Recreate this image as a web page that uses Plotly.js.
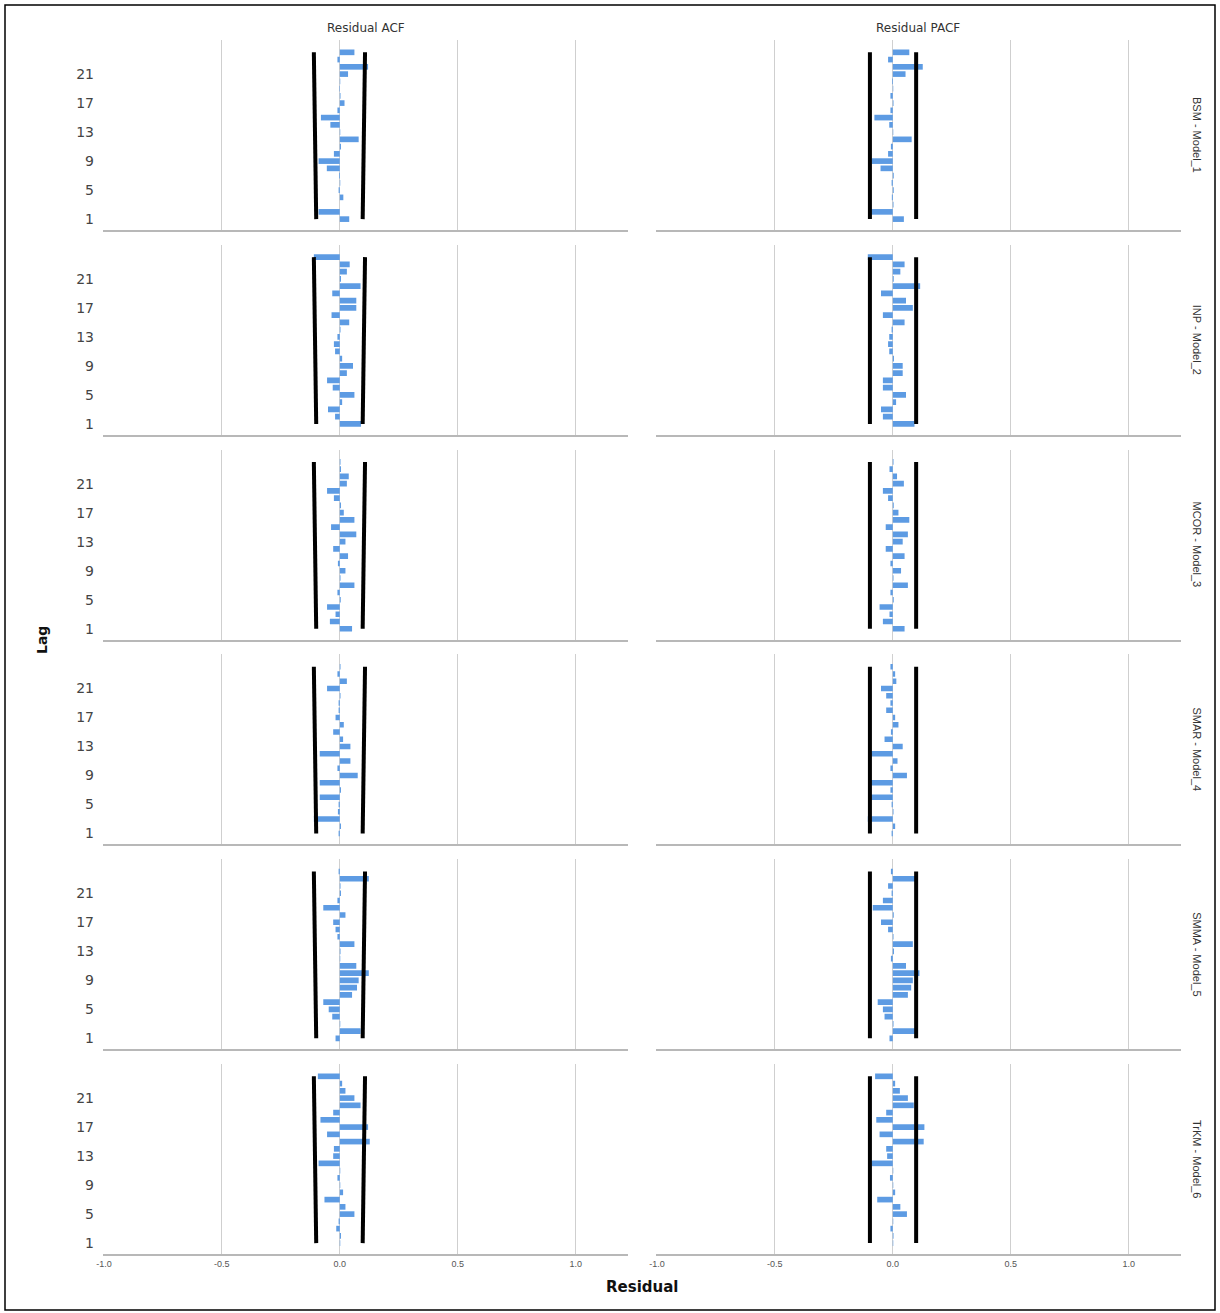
<!DOCTYPE html>
<html>
<head>
<meta charset="utf-8">
<script src="https://cdn.plot.ly/plotly-3.0.1.min.js"></script>
<style>
html,body{margin:0;padding:0;background:#fff;}
#chart{width:1220px;height:1313px;}
</style>
</head>
<body>
<div id="chart"></div>
<script>
// ---- data ----
const lags = [1,2,3,4,5,6,7,8,9,10,11,12,13,14,15,16,17,18,19,20,21,22,23,24];
const models = ["BSM - Model_1","INP - Model_2","MCOR - Model_3","SMAR - Model_4","SMMA - Model_5","TrKM - Model_6"];
const columnTitles = ["Residual ACF","Residual PACF"];
const xTickVals = [-1.0,-0.5,0.0,0.5,1.0];
const xTickText = ["-1.0","-0.5","0.0","0.5","1.0"];
const yTickVals = [1,5,9,13,17,21];

const acf1 = [0.04,-0.09,0.0,0.015,-0.005,0.002,-0.003,-0.055,-0.09,-0.025,0.005,0.08,0.002,-0.04,-0.08,-0.01,0.02,0.003,-0.002,0.002,0.035,0.12,-0.01,0.062];
const pacf1 = [0.047,-0.092,0.003,-0.004,0.004,-0.005,0.004,-0.052,-0.09,-0.02,-0.008,0.08,0.002,-0.015,-0.078,-0.01,0.003,-0.01,0.002,-0.003,0.054,0.127,-0.02,0.07];
const acf2 = [0.09,-0.02,-0.05,0.01,0.062,-0.03,-0.054,0.03,0.056,0.01,-0.02,-0.025,-0.01,0.003,0.04,-0.035,0.07,0.07,-0.032,0.088,0.005,0.03,0.042,-0.11];
const pacf2 = [0.092,-0.042,-0.05,0.014,0.056,-0.042,-0.042,0.042,0.042,0.005,-0.015,-0.02,-0.015,-0.005,0.05,-0.042,0.085,0.056,-0.05,0.116,0.004,0.032,0.05,-0.106];
const acf3 = [0.052,-0.042,-0.018,-0.054,0.004,-0.01,0.062,0.003,0.024,-0.008,0.035,-0.028,0.024,0.07,-0.037,0.062,0.017,0.005,-0.025,-0.054,0.03,0.038,0.005,0.003];
const pacf3 = [0.05,-0.042,-0.014,-0.056,0.004,-0.01,0.064,0.003,0.035,-0.01,0.05,-0.03,0.042,0.064,-0.03,0.07,0.024,0.004,-0.02,-0.042,0.047,0.018,-0.014,0.003];
const acf4 = [-0.005,0.005,-0.11,-0.008,-0.005,-0.085,0.005,-0.085,0.076,-0.01,0.045,-0.085,0.045,0.014,-0.028,0.017,-0.018,-0.005,-0.005,0.003,-0.054,0.03,-0.01,0.003];
const pacf4 = [-0.005,0.01,-0.106,0.003,-0.005,-0.095,-0.01,-0.095,0.06,-0.01,0.02,-0.092,0.042,-0.035,-0.008,0.024,0.01,-0.028,-0.01,-0.028,-0.05,0.015,0.01,-0.01];
const acf5 = [-0.018,0.088,0.002,-0.032,-0.047,-0.07,0.052,0.073,0.08,0.123,0.07,0.002,0.003,0.062,-0.01,-0.018,-0.028,0.024,-0.07,-0.01,0.005,0.003,0.123,-0.005];
const pacf5 = [-0.014,0.1,0.003,-0.035,-0.042,-0.064,0.064,0.078,0.085,0.113,0.056,-0.008,0.005,0.085,0.003,-0.02,-0.05,0.004,-0.085,-0.042,-0.005,-0.02,0.106,-0.008];
const acf6 = [0.002,0.005,-0.015,-0.005,0.062,0.024,-0.065,0.014,0.002,-0.01,0.002,-0.09,-0.028,-0.025,0.127,-0.054,0.12,-0.082,-0.028,0.088,0.062,0.024,0.01,-0.093];
const pacf6 = [0.002,0.003,-0.01,0.002,0.06,0.032,-0.066,0.01,0.002,-0.012,0.002,-0.09,-0.024,-0.028,0.131,-0.056,0.134,-0.07,-0.028,0.089,0.064,0.03,0.01,-0.075];

// confidence limits (endpoints at lag 1 and lag 24)
const limitLags = [1,24];
const acfUpper = [0.097,0.107];
const acfLower = [-0.1,-0.11];
const pacfUpper = [0.099,0.099];
const pacfLower = [-0.097,-0.097];

const acfSeries = [acf1,acf2,acf3,acf4,acf5,acf6];
const pacfSeries = [pacf1,pacf2,pacf3,pacf4,pacf5,pacf6];

// ---- layout geometry ----
const W = 1220, H = 1313;
const colPx = [[103,628],[656,1181]];
const rowBottom0 = 230, rowPitch = 204.8, rowHeight = 190;
const barColor = '#5d9be3';

const traces = [];
const layout = {
  width: W, height: H,
  margin: {l:0,r:0,t:0,b:0},
  paper_bgcolor: '#fff', plot_bgcolor: '#fff',
  showlegend: false,
  bargap: 0.22,
  font: {family: 'Liberation Sans, Arial, sans-serif', color: '#333'},
  annotations: [], shapes: []
};

let idx = 0;
for (let r = 0; r < 6; r++) {
  const bottomPx = rowBottom0 + rowPitch * r;
  const topPx = bottomPx - rowHeight;
  for (let c = 0; c < 2; c++) {
    idx++;
    const xa = idx === 1 ? 'x' : 'x' + idx;
    const ya = idx === 1 ? 'y' : 'y' + idx;
    const xkey = idx === 1 ? 'xaxis' : 'xaxis' + idx;
    const ykey = idx === 1 ? 'yaxis' : 'yaxis' + idx;
    const vals = c === 0 ? acfSeries[r] : pacfSeries[r];
    const up = c === 0 ? acfUpper : pacfUpper;
    const lo = c === 0 ? acfLower : pacfLower;
    traces.push({type:'scatter', mode:'lines', x: up, y: limitLags, xaxis: xa, yaxis: ya,
      line:{color:'#000', width:4}, hoverinfo:'skip'});
    traces.push({type:'scatter', mode:'lines', x: lo, y: limitLags, xaxis: xa, yaxis: ya,
      line:{color:'#000', width:4}, hoverinfo:'skip'});
    traces.push({type:'bar', orientation:'h', x: vals, y: lags, xaxis: xa, yaxis: ya,
      marker:{color: barColor, line:{width:0}}});
    layout[xkey] = {
      domain: [colPx[c][0]/W, colPx[c][1]/W],
      anchor: ya,
      range: [-1.004, 1.222],
      tickvals: xTickVals, ticktext: xTickText,
      showticklabels: r === 5,
      tickfont: {size: 9, color: '#555'},
      ticks: '',
      showgrid: true, gridcolor: '#cfcfcf', gridwidth: 1,
      zeroline: true, zerolinecolor: '#d0d0d0', zerolinewidth: 1,
      showline: true, linecolor: '#b8b8b8', linewidth: 2,
      fixedrange: true
    };
    layout[ykey] = {
      domain: [1 - bottomPx/H, 1 - topPx/H],
      anchor: xa,
      range: [-0.5, 25.7],
      tickvals: yTickVals,
      showticklabels: c === 0,
      tickfont: {size: 14, color: '#444', family: 'DejaVu Sans, sans-serif'},
      ticks: '', ticklabelstandoff: 8,
      showgrid: false, zeroline: false, showline: false,
      fixedrange: true
    };
  }
  layout.annotations.push({
    text: models[r], xref:'paper', yref:'paper',
    x: 1197/W, y: 1 - (bottomPx - rowHeight/2)/H,
    xanchor:'center', yanchor:'middle',
    textangle: 90, showarrow: false,
    font: {size: 11, color: '#333', family: 'Liberation Sans Narrow, Arial Narrow, Liberation Sans, sans-serif'}
  });
}

// column titles
[[365.5, 0],[918, 1]].forEach(([px, c]) => {
  layout.annotations.push({
    text: columnTitles[c], xref:'paper', yref:'paper',
    x: px/W, y: 1 - 28/H, xanchor:'center', yanchor:'middle', showarrow:false,
    font:{size: 12, color:'#333', family:'DejaVu Sans, sans-serif'}
  });
});
// axis titles
layout.annotations.push({text:'<b>Lag</b>', xref:'paper', yref:'paper', x: 42/W, y: 1 - 640/H,
  xanchor:'center', yanchor:'middle',
  textangle:-90, showarrow:false, font:{size:14, color:'#111', family:'DejaVu Sans, sans-serif'}});
layout.annotations.push({text:'<b>Residual</b>', xref:'paper', yref:'paper', x: 642/W, y: 1 - 1287/H,
  xanchor:'center', yanchor:'middle',
  showarrow:false, font:{size:15, color:'#111', family:'DejaVu Sans, sans-serif'}});

// outer frame
layout.shapes.push({type:'rect', xref:'paper', yref:'paper',
  x0: 5/W, x1: 1215/W, y0: 1 - 1310/H, y1: 1 - 5/H,
  line:{color:'#000', width:1.5}, fillcolor:'rgba(0,0,0,0)'});

Plotly.newPlot('chart', traces, layout, {staticPlot:true, displayModeBar:false});
</script>
</body>
</html>
